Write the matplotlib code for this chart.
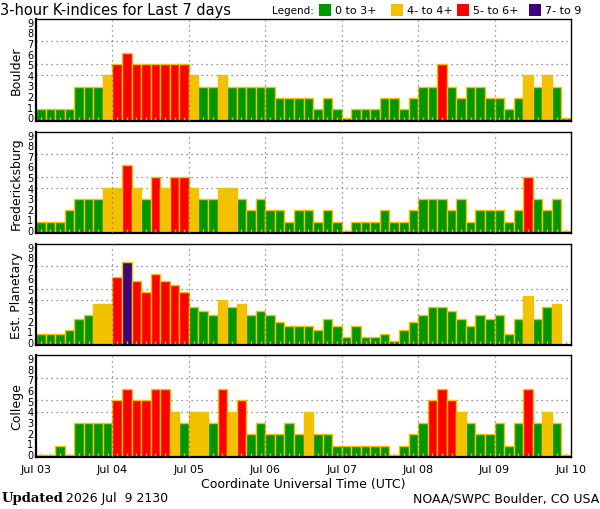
import matplotlib
matplotlib.use('Agg')
import matplotlib.pyplot as plt
import matplotlib.transforms as mtransforms
from matplotlib.patches import Rectangle

# 3-hour K values, 8 per day, Jul 03 .. Jul 09
stations = ['Boulder', 'Fredericksburg', 'Est. Planetary', 'College']

boulder = [1, 1, 1, 1, 3, 3, 3, 4,
           5, 6, 5, 5, 5, 5, 5, 5,
           4, 3, 3, 4, 3, 3, 3, 3,
           3, 2, 2, 2, 2, 1, 2, 1,
           0, 1, 1, 1, 2, 2, 1, 2,
           3, 3, 5, 3, 2, 3, 3, 2,
           2, 1, 2, 4, 3, 4, 3, 0]

fredericksburg = [1, 1, 1, 2, 3, 3, 3, 4,
                  4, 6, 4, 3, 5, 4, 5, 5,
                  4, 3, 3, 4, 4, 3, 2, 3,
                  2, 2, 1, 2, 2, 1, 2, 1,
                  0, 1, 1, 1, 2, 1, 1, 2,
                  3, 3, 3, 2, 3, 1, 2, 2,
                  2, 1, 2, 5, 3, 2, 3, 0]

planetary = [1.00, 1.00, 1.00, 1.33, 2.33, 2.67, 3.67, 3.67,
             6.00, 7.33, 5.67, 4.67, 6.33, 5.67, 5.33, 4.67,
             3.33, 3.00, 2.67, 4.00, 3.33, 3.67, 2.67, 3.00,
             2.67, 2.00, 1.67, 1.67, 1.67, 1.33, 2.33, 1.67,
             0.67, 1.67, 0.67, 0.67, 1.00, 0.33, 1.33, 2.00,
             2.67, 3.33, 3.33, 3.00, 2.33, 1.67, 2.67, 2.33,
             2.67, 1.00, 2.33, 4.33, 2.33, 3.33, 3.67, None]

college = [0, 0, 1, 0, 3, 3, 3, 3,
           5, 6, 5, 5, 6, 6, 4, 3,
           4, 4, 3, 6, 4, 5, 2, 3,
           2, 2, 3, 2, 4, 2, 2, 1,
           1, 1, 1, 1, 1, 0, 1, 2,
           3, 5, 6, 5, 4, 3, 2, 2,
           3, 1, 3, 6, 3, 4, 3, 0]

series = [boulder, fredericksburg, planetary, college]
day_labels = ['Jul 03', 'Jul 04', 'Jul 05', 'Jul 06', 'Jul 07', 'Jul 08', 'Jul 09', 'Jul 10']

GREEN = '#009600'
YELLOW = '#f2c200'
RED = '#ff0000'
PURPLE = '#40007f'
EDGE = '#f2c200'


def kcolor(v):
    if v < 3.5:
        return GREEN
    elif v < 4.5:
        return YELLOW
    elif v < 6.5:
        return RED
    return PURPLE


plt.rcParams['font.family'] = ['DejaVu Sans']

fig = plt.figure(figsize=(6.0, 5.1), dpi=100)

# panel boxes in pixels (top, bottom)
boxes = [(19.5, 121.5), (132.5, 234), (244.5, 346), (356, 458)]
left_px, right_px = 36, 571

for k, (name, vals) in enumerate(zip(stations, series)):
    top, bot = boxes[k]
    ax = fig.add_axes([left_px / 600, (510 - bot) / 510,
                       (right_px - left_px) / 600, (bot - top) / 510])
    xs = [i for i, v in enumerate(vals) if v is not None]
    hs = [v if v > 0 else 0.22 for v in vals if v is not None]
    cs = [kcolor(v) for v in vals if v is not None]
    ax.bar(xs, hs, width=1.0, align='edge', color=cs, edgecolor=EDGE,
           linewidth=1.0, zorder=1)
    for yv in (4, 5, 7):
        ax.axhline(yv, color='#777777', linestyle=(0, (1, 3)), linewidth=0.9, zorder=0.5)
    for d in range(1, 7):
        ax.axvline(d * 8, color='#777777', linestyle=(0, (1, 3)), linewidth=0.9, zorder=3)
    ax.set_xlim(0, 56)
    ax.set_ylim(0, 9)
    ax.set_yticks(range(10))
    ax.tick_params(axis='y', length=0, pad=2, labelsize=7)
    # squeeze the 0..9 labels slightly inward like the original
    for i, lab in enumerate(ax.get_yticklabels()):
        dy = (4.5 - i) * 0.7 / 100
        lab.set_transform(lab.get_transform() +
                          mtransforms.ScaledTranslation(0, dy, fig.dpi_scale_trans))
    ax.set_xticks(range(0, 57, 8))
    ax.set_xticks([i + 0.5 for i in range(56)], minor=True)
    ax.tick_params(axis='x', which='minor', direction='in', length=3,
                   width=1, color=EDGE)
    if k == 3:
        ax.set_xticklabels(day_labels, fontsize=8)
        ax.tick_params(axis='x', which='major', length=0, pad=5)
        ax.set_xlabel('Coordinate Universal Time (UTC)', fontsize=9, labelpad=2)
    else:
        ax.set_xticklabels([])
        ax.tick_params(axis='x', which='major', length=0)
    ax.set_ylabel(name, fontsize=9, labelpad=3)
    for s in ('left', 'bottom'):
        ax.spines[s].set_linewidth(1.6)
    for s in ('top', 'right'):
        ax.spines[s].set_linewidth(1.0)

# title and legend
fig.text(0.0, 1 - 10 / 510, '3-hour K-indices for Last 7 days', fontsize=10.5,
         ha='left', va='center')
fig.text(272 / 600, 1 - 11 / 510, 'Legend:', fontsize=7.5, ha='left', va='center')
legend_items = [(319, GREEN, '0 to 3+'), (391, YELLOW, '4- to 4+'),
                (457, RED, '5- to 6+'), (529, PURPLE, '7- to 9')]
for x0, col, lab in legend_items:
    fig.patches.append(Rectangle((x0 / 600, 1 - 17 / 510), 12 / 600, 12 / 510,
                                 transform=fig.transFigure, facecolor=col,
                                 edgecolor='none'))
    fig.text((x0 + 16) / 600, 1 - 11 / 510, lab, fontsize=8, ha='left', va='center')

# footer
fig.text(2 / 600, 1 - 499 / 510, 'Updated', fontsize=9.5, fontweight='bold',
         family='DejaVu Serif', ha='left', va='center')
fig.text(66 / 600, 1 - 499 / 510, '2026 Jul  9 2130', fontsize=9,
         ha='left', va='center')
fig.text(599 / 600, 1 - 499 / 510, 'NOAA/SWPC Boulder, CO USA', fontsize=9,
         ha='right', va='center')

fig.savefig('out.png', dpi=100)
